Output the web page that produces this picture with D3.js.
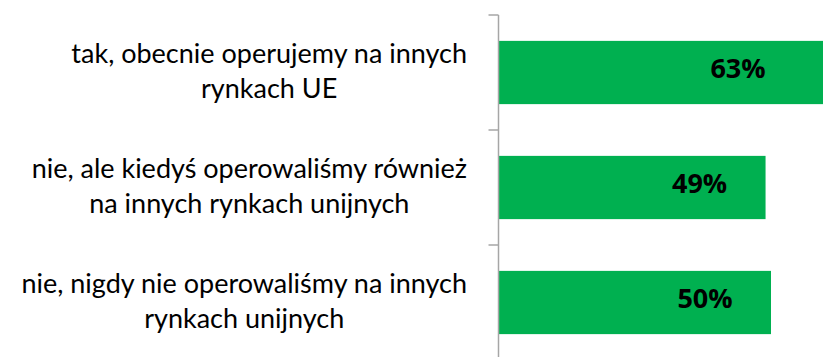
<!DOCTYPE html>
<html>
<head>
<meta charset="utf-8">
<script src="https://cdn.jsdelivr.net/npm/d3@7"></script>
<style>
  html, body { margin: 0; padding: 0; background: #fff; overflow: hidden; }
  svg { display: block; }
</style>
</head>
<body>
<svg id="chart" width="823" height="357"></svg>
<script>
// Answer categories (each as its wrapped lines) and shares of respondents
const categories = [
  ["tak, obecnie operujemy na innych", "rynkach UE"],
  ["nie, ale kiedyś operowaliśmy również", "na innych rynkach unijnych"],
  ["nie, nigdy nie operowaliśmy na innych", "rynkach unijnych"]
];
const values = [0.63, 0.49, 0.50];
const valueLabels = ["63%", "49%", "50%"];

const W = 823, H = 357;
const axisX = 498.5;
const svg = d3.select("#chart");

const keys = categories.map((c, i) => i);
const y = d3.scaleBand()
  .domain(keys)
  .range([15, 360])
  .paddingInner(0.45)
  .paddingOuter(0.225);

const x = d3.scaleLinear()
  .domain([0, 1])
  .range([axisX, axisX + 545]);

// Bars
svg.append("g")
  .selectAll("rect")
  .data(values)
  .join("rect")
  .attr("x", x(0))
  .attr("y", (d, i) => y(i))
  .attr("width", d => x(d) - x(0))
  .attr("height", y.bandwidth())
  .attr("fill", "#00B050");

// Category axis: vertical line with ticks at band boundaries
const step = y.step();
const boundaries = d3.range(keys.length + 1).map(i => y.range()[0] + i * step);
const axis = svg.append("g").attr("stroke", "#A6A6A6").attr("stroke-width", 1.5);
axis.append("line")
  .attr("x1", axisX).attr("x2", axisX)
  .attr("y1", boundaries[0]).attr("y2", boundaries[boundaries.length - 1]);
axis.selectAll("line.tick")
  .data(boundaries)
  .join("line")
  .attr("class", "tick")
  .attr("x1", axisX - 10).attr("x2", axisX)
  .attr("y1", d => d).attr("y2", d => d);

// Category labels: block right-aligned to the axis, lines centered within it
const lineH = 35;
const labelRight = 467;
const labels = svg.append("g")
  .attr("font-family", "Lato, 'Open Sans', sans-serif")
  .attr("font-size", 27)
  .attr("fill", "#000");

categories.forEach((lines, i) => {
  const cy = y(i) + y.bandwidth() / 2;
  const g = labels.append("g");
  const texts = lines.map((t, j) =>
    g.append("text")
      .attr("text-anchor", "middle")
      .attr("y", cy + 8 + (j - (lines.length - 1) / 2) * lineH)
      .text(t)
  );
  const maxW = d3.max(texts, t => t.node().getComputedTextLength());
  texts.forEach(t => t.attr("x", labelRight - maxW / 2));
});

// Value labels inside the visible end of each bar
svg.append("g")
  .selectAll("text")
  .data(values)
  .join("text")
  .attr("x", d => Math.min(x(d) - 66, W - 85))
  .attr("y", (d, i) => y(i) + y.bandwidth() / 2 + 5)
  .attr("text-anchor", "middle")
  .attr("font-family", "'Open Sans', sans-serif")
  .attr("font-weight", "bold")
  .attr("font-size", 27)
  .attr("fill", "#000")
  .text((d, i) => valueLabels[i]);
</script>
</body>
</html>
